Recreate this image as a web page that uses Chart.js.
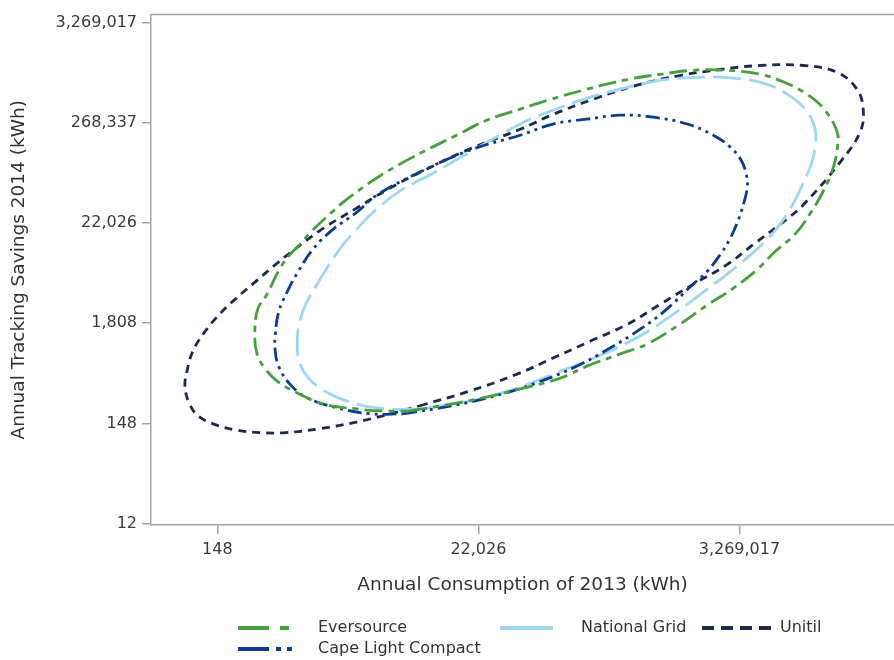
<!DOCTYPE html>
<html><head><meta charset="utf-8">
<script src="https://cdn.jsdelivr.net/npm/chart.js@4.4.1/dist/chart.umd.min.js"></script>
<style>html,body{margin:0;padding:0;background:#fff;}#wrap{width:894px;height:660px;}</style>
</head><body><div id="wrap"><canvas id="c" width="894" height="660"></canvas></div>
<script>
// Values are natural logs of kWh (axes are log-e scaled); tick labels show exp(value)
const seriesNames = ['Eversource', 'National Grid', 'Unitil', 'Cape Light Compact'];
const xTickValues = [5, 10, 15];
const yTickValues = [2.5, 5, 7.5, 10, 12.5, 15];
const xTitle = 'Annual Consumption of 2013 (kWh)';
const yTitle = 'Annual Tracking Savings 2014 (kWh)';

const eversourceX = [8.68, 9.50, 10.17, 10.80, 11.57, 12.08, 12.71, 13.23, 13.83, 14.38, 14.88, 15.34, 15.66, 16.07, 16.35, 16.60, 16.78, 16.87, 16.87, 16.62, 16.30, 15.86, 15.40, 14.76, 14.11, 13.48, 12.85, 12.08, 11.32, 10.80, 10.17, 9.58, 8.68, 8.06, 7.54, 7.16, 6.78, 6.58, 6.39, 6.20, 5.95, 5.78, 5.72, 5.76, 5.95, 6.14, 6.53, 7.02, 7.68, 8.17, 8.68];
const eversourceY = [5.31, 5.49, 5.66, 5.86, 6.13, 6.43, 6.73, 6.98, 7.45, 7.95, 8.37, 8.84, 9.26, 9.73, 10.23, 10.78, 11.32, 11.82, 12.27, 12.84, 13.21, 13.51, 13.71, 13.81, 13.81, 13.71, 13.58, 13.34, 13.06, 12.84, 12.57, 12.19, 11.60, 11.13, 10.65, 10.23, 9.76, 9.46, 9.21, 8.87, 8.22, 7.87, 7.37, 6.73, 6.31, 6.06, 5.76, 5.49, 5.36, 5.31, 5.31];

const nationalGridX = [8.88, 9.84, 10.74, 11.43, 12.39, 13.16, 13.73, 14.25, 14.76, 15.26, 15.65, 15.93, 16.18, 16.37, 16.45, 16.45, 16.26, 15.86, 15.40, 14.76, 14.11, 13.48, 12.71, 11.95, 11.18, 10.80, 9.84, 9.07, 8.56, 8.06, 7.68, 7.35, 6.91, 6.64, 6.53, 6.62, 6.97, 7.60, 8.25, 8.88];
const nationalGridY = [5.36, 5.56, 5.88, 6.23, 6.73, 7.23, 7.72, 8.22, 8.72, 9.26, 9.76, 10.26, 10.88, 11.45, 11.90, 12.34, 12.84, 13.26, 13.51, 13.63, 13.63, 13.56, 13.34, 13.06, 12.69, 12.47, 11.77, 11.20, 10.85, 10.36, 9.86, 9.36, 8.47, 7.80, 7.05, 6.38, 5.88, 5.51, 5.36, 5.36];

const unitilX = [8.88, 9.84, 10.74, 11.43, 12.14, 12.85, 13.48, 14.11, 14.76, 15.26, 15.84, 16.22, 16.93, 17.31, 17.37, 17.25, 16.87, 16.22, 15.40, 14.63, 13.86, 13.04, 12.20, 11.43, 10.80, 9.84, 8.94, 8.25, 7.68, 7.02, 6.53, 6.14, 5.76, 5.30, 4.99, 4.73, 4.53, 4.42, 4.38, 4.46, 4.63, 4.96, 5.34, 5.82, 6.30, 6.97, 7.93, 8.88];
const unitilY = [5.44, 5.81, 6.23, 6.63, 7.05, 7.47, 7.97, 8.47, 8.96, 9.46, 10.03, 10.45, 11.52, 12.27, 12.84, 13.34, 13.76, 13.93, 13.93, 13.83, 13.68, 13.44, 13.09, 12.71, 12.34, 11.85, 11.30, 10.83, 10.38, 9.86, 9.39, 8.99, 8.57, 8.05, 7.65, 7.23, 6.80, 6.31, 5.93, 5.51, 5.19, 4.97, 4.84, 4.77, 4.77, 4.87, 5.11, 5.44];

const capeLightX = [8.56, 9.50, 10.47, 11.05, 11.89, 12.52, 13.10, 13.58, 14.11, 14.38, 14.63, 14.82, 14.98, 15.09, 15.15, 15.13, 15.03, 14.82, 14.50, 14.00, 13.35, 12.71, 12.08, 11.43, 10.80, 9.84, 8.88, 8.06, 7.68, 7.16, 6.81, 6.55, 6.34, 6.18, 6.11, 6.11, 6.18, 6.39, 6.72, 7.29, 7.93, 8.56];
const capeLightY = [5.24, 5.44, 5.74, 5.98, 6.43, 6.88, 7.35, 7.82, 8.47, 8.79, 9.21, 9.61, 10.08, 10.53, 10.90, 11.22, 11.57, 11.90, 12.19, 12.47, 12.64, 12.69, 12.59, 12.47, 12.19, 11.82, 11.27, 10.70, 10.28, 9.78, 9.31, 8.79, 8.29, 7.80, 7.23, 6.80, 6.41, 5.98, 5.64, 5.39, 5.24, 5.24];

const COLORS = { ever: '#46a03e', ng: '#9ed7f0', unitil: '#1b2a4e', cape: '#0b3c90' };
const FONT = 'DejaVu Sans';

function pts(xs, ys) { return xs.map((x, i) => ({ x: x, y: ys[i] })); }
function ds(label, xs, ys, color, dash) {
  return { label, data: pts(xs, ys), showLine: true, fill: false, borderColor: color,
    backgroundColor: color, borderWidth: 2.8, borderDash: dash, tension: 0.4,
    pointRadius: 0, pointHoverRadius: 0, borderCapStyle: 'butt', borderJoinStyle: 'round' };
}
const fmt = v => Math.round(Math.exp(v)).toLocaleString('en-US');

const frameTop = {
  id: 'frameTop',
  afterDraw(chart) {
    const { ctx, chartArea } = chart;
    ctx.save();
    ctx.strokeStyle = '#a6a6a6'; ctx.lineWidth = 1.5;
    ctx.beginPath(); ctx.moveTo(chartArea.left, chartArea.top); ctx.lineTo(chart.width, chartArea.top); ctx.stroke();
    ctx.restore();
  }
};

const legendItems = [
  { name: seriesNames[0], color: COLORS.ever, x0: 238, x1: 289, y: 628, dash: [31, 11, 9, 200], tx: 318 },
  { name: seriesNames[1], color: COLORS.ng, x0: 500, x1: 553, y: 628, dash: [], tx: 581 },
  { name: seriesNames[2], color: COLORS.unitil, x0: 702, x1: 771, y: 628, dash: [12, 7], tx: 780 },
  { name: seriesNames[3], color: COLORS.cape, x0: 238, x1: 293, y: 649, dash: [31, 7, 5, 6, 5, 200], tx: 318 }
];
const customLegend = {
  id: 'customLegend',
  afterDraw(chart) {
    const ctx = chart.ctx;
    ctx.save();
    legendItems.forEach(it => {
      ctx.strokeStyle = it.color; ctx.lineWidth = 4; ctx.lineCap = 'butt';
      ctx.setLineDash(it.dash);
      ctx.beginPath(); ctx.moveTo(it.x0, it.y); ctx.lineTo(it.x1, it.y); ctx.stroke();
      ctx.setLineDash([]);
      ctx.fillStyle = '#333333'; ctx.font = '16px "' + FONT + '"';
      ctx.textBaseline = 'middle'; ctx.textAlign = 'left';
      ctx.fillText(it.name, it.tx, it.y);
    });
    ctx.restore();
  }
};

new Chart(document.getElementById('c'), {
  type: 'scatter',
  data: { datasets: [
    ds(seriesNames[0], eversourceX, eversourceY, COLORS.ever, [18, 6, 6, 6]),
    ds(seriesNames[3], capeLightX, capeLightY, COLORS.cape, [14, 5, 3, 5, 3, 5]),
    ds(seriesNames[1], nationalGridX, nationalGridY, COLORS.ng, [28, 8]),
    ds(seriesNames[2], unitilX, unitilY, COLORS.unitil, [8, 6])
  ]},
  options: {
    responsive: false, animation: false, devicePixelRatio: 1,
    layout: { padding: { left: 0, right: 0, top: 12, bottom: 60 } },
    plugins: { legend: { display: false }, tooltip: { enabled: false } },
    events: [],
    scales: {
      x: {
        type: 'linear', min: 3.73, max: 17.96,
        afterBuildTicks: s => { s.ticks = xTickValues.map(v => ({ value: v })); },
        afterFit: s => { s.height = 75; },
        grid: { display: true, drawOnChartArea: false, drawTicks: true, tickLength: 9, color: '#a6a6a6', lineWidth: 1.5 },
        border: { display: true, color: '#a6a6a6', width: 1.5 },
        ticks: { callback: v => fmt(v), font: { family: FONT, size: 16 }, color: '#3a3a3a', padding: 6, maxRotation: 0, autoSkip: false },
        title: { display: true, text: xTitle, font: { family: FONT, size: 18.5 }, color: '#333333', padding: { top: 0, bottom: 4 } }
      },
      y: {
        type: 'linear', min: 2.465, max: 15.2,
        afterBuildTicks: s => { s.ticks = yTickValues.map(v => ({ value: v })); },
        afterFit: s => { s.width = 151; },
        grid: { display: true, drawOnChartArea: false, drawTicks: true, tickLength: 9, color: '#a6a6a6', lineWidth: 1.5 },
        border: { display: true, color: '#a6a6a6', width: 1.5 },
        ticks: { callback: v => fmt(v), font: { family: FONT, size: 16 }, color: '#3a3a3a', padding: 5, autoSkip: false },
        title: { display: true, text: yTitle, font: { family: FONT, size: 18.5 }, color: '#333333', padding: { top: 8, bottom: 0 } }
      }
    }
  },
  plugins: [frameTop, customLegend]
});
</script></body></html>
